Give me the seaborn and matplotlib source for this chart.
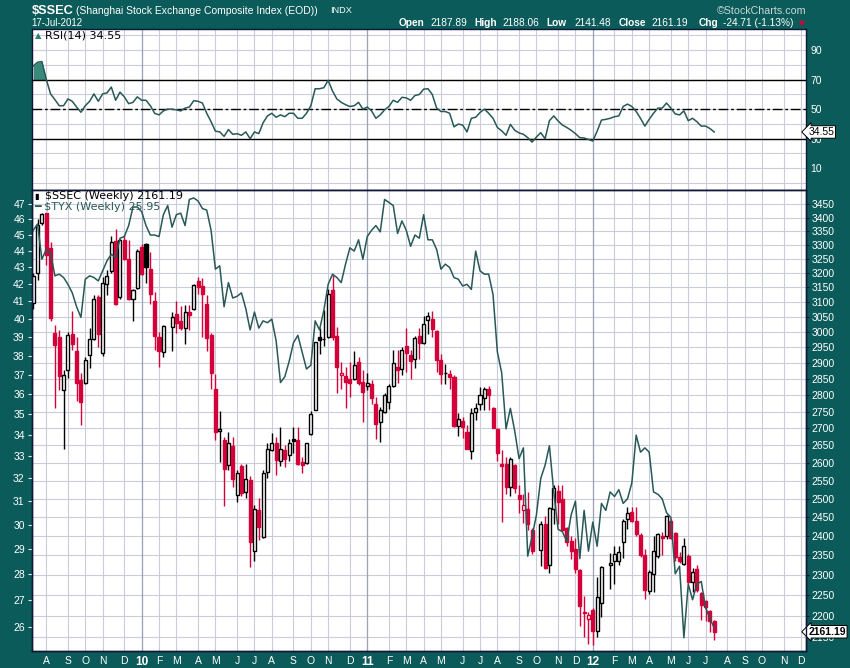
import numpy as np
import pandas as pd
import matplotlib
matplotlib.use("Agg")
import matplotlib.pyplot as plt
import matplotlib.ticker as mticker
import matplotlib.transforms as mtransforms
import seaborn as sns

# ---------------- data ----------------
first_week = "2009-07-13"
axis_end = "2012-12-10"

ssec_open = [3098, 3201, 3379, 3416, 3290, 2998, 2985, 2817, 2878, 2993,
             2938, 2846, 2838, 2926, 2976, 3118, 2932, 3161, 3207, 3314,
             3116, 3317, 3249, 3109, 3148, 3294, 3303, 3214, 3103, 2985,
             2935, None, 3015, 3059, 3036, 3012, 3068, 3075, 3173, 3155,
             3095, 2990, 2820, 2692, 2665, 2595, 2648, 2510, 2591, 2517,
             2551, 2361, 2469, 2398, 2574, 2636, 2656, 2605, 2638, 2622,
             2668, 2666, 2603, 2600, 2682, 2756, 2983, 2976, 2983, 3140,
             2986, 2861, 2860, 2851, 2851, 2902, 2841, 2827, 2833, 2772,
             2718, 2750, 2778, 2829, 2886, 2880, 2954, 2925, 2914, 2987,
             2963, 3039, 3042, 3003, 2911, 2869, 2865, 2856, 2707, 2723,
             2688, 2635, 2748, 2772, 2790, 2820, 2760, 2697, 2598, 2598,
             2533, 2595, 2510, 2469, 2471, 2417, None, 2364, 2433, 2325,
             2471, 2521, 2498, 2420, 2387, 2366, 2312, 2209, 2191, 2213,
             2163, 2230, None, 2325, 2334, 2334, 2383, 2446, 2464, 2439,
             2403, 2350, 2259, 2302, 2349, 2401, 2400, 2441, 2409, 2346,
             2328, 2349, 2283, 2314, 2254, 2235, 2211, 2187.89]
ssec_high = [3200, 3394, 3419, 3419, 3312, 3023, 3006, 2878, 3001, 3070,
             2985, 2867, 2920, 3012, 3124, 3124, 3185, 3210, 3333, 3358,
             3320, 3336, 3317, 3146, 3284, 3302, 3308, 3276, 3135, 2999,
             3023, None, 3068, 3103, 3086, 3090, 3090, 3161, 3185, 3182,
             3124, 2996, 2864, 2751, 2675, 2688, 2675, 2581, 2598, 2598,
             2562, 2483, 2502, 2579, 2656, 2685, 2675, 2703, 2651, 2670,
             2705, 2703, 2617, 2658, 2752, 2969, 3012, 3073, 3143, 3192,
             3017, 2904, 2888, 2902, 2939, 2920, 2878, 2867, 2846, 2795,
             2763, 2807, 2833, 2941, 2943, 2952, 3014, 2941, 2987, 3012,
             3052, 3065, 3070, 3006, 2930, 2897, 2878, 2862, 2746, 2734,
             2710, 2760, 2775, 2826, 2824, 2828, 2765, 2700, 2636, 2617,
             2617, 2598, 2538, 2514, 2519, 2420, None, 2439, 2453, 2477,
             2538, 2538, 2538, 2425, 2400, 2396, 2316, 2247, 2209, 2217,
             2295, 2322, None, 2355, 2373, 2375, 2446, 2478, 2478, 2478,
             2407, 2365, 2312, 2400, 2408, 2410, 2455, 2446, 2411, 2358,
             2395, 2352, 2318, 2324, 2258, 2237, 2214, 2188.06]
ssec_low = [3075, 3175, 3373, 3228, 3038, 2760, 2815, 2639, 2852, 2941,
            2783, 2710, 2834, 2883, 2974, 2952, 2922, 3124, 3199, 3090,
            3112, 3246, 3106, 3038, 3146, 3192, 3164, 3095, 2941, 2888,
            2919, None, 2939, 2998, 3006, 2962, 3008, 3073, 3129, 2985,
            2939, 2820, 2665, 2603, 2481, 2581, 2533, 2492, 2507, 2503,
            2319, 2336, 2389, 2394, 2556, 2634, 2565, 2591, 2589, 2605,
            2627, 2594, 2572, 2598, 2680, 2754, 2930, 2954, 2981, 2975,
            2805, 2820, 2762, 2795, 2848, 2830, 2720, 2815, 2772, 2668,
            2661, 2747, 2759, 2826, 2838, 2861, 2872, 2849, 2883, 2914,
            2961, 2993, 2985, 2872, 2834, 2833, 2818, 2705, 2676, 2673,
            2639, 2610, 2724, 2756, 2754, 2756, 2700, 2606, 2438, 2512,
            2507, 2516, 2460, 2435, 2416, 2352, None, 2322, 2316, 2305,
            2433, 2433, 2412, 2375, 2340, 2304, 2176, 2150, 2132, 2130,
            2148, 2196, None, 2264, 2277, 2325, 2344, 2418, 2437, 2399,
            2346, 2241, 2252, 2258, 2343, 2350, 2392, 2392, 2336, 2330,
            2325, 2280, 2258, 2258, 2189, 2187, 2161, 2141.48]
ssec_close = [3189, 3373, 3414, 3264, 3045, 2957, 2859, 2861, 2990, 2962,
              2838, 2780, 2911, 2976, 3109, 2995, 3164, 3189, 3309, 3095,
              3317, 3248, 3112, 3140, 3278, 3195, 3222, 3129, 2988, 2938,
              3020, None, 3050, 3031, 3012, 3068, 3056, 3157, 3152, 3129,
              2981, 2868, 2688, 2698, 2583, 2656, 2553, 2570, 2515, 2553,
              2383, 2471, 2424, 2572, 2639, 2658, 2608, 2641, 2610, 2656,
              2664, 2598, 2594, 2656, 2743, 2966, 2974, 2978, 3129, 2985,
              2888, 2868, 2841, 2838, 2893, 2836, 2808, 2838, 2790, 2714,
              2755, 2800, 2828, 2899, 2878, 2943, 2932, 2907, 2979, 2965,
              3028, 3052, 3010, 2911, 2864, 2867, 2857, 2708, 2729, 2705,
              2641, 2745, 2760, 2800, 2820, 2800, 2701, 2627, 2590, 2533,
              2612, 2528, 2498, 2483, 2433, 2360, None, 2433, 2318, 2474,
              2528, 2490, 2416, 2383, 2361, 2315, 2224, 2205, 2201, 2163,
              2246, 2321, None, 2331, 2353, 2358, 2439, 2460, 2439, 2405,
              2350, 2263, 2306, 2362, 2404, 2396, 2452, 2396, 2346, 2334,
              2375, 2281, 2306, 2262, 2225, 2220, 2186, 2161.19]
tyx_close = [45.3, 45.7, 43.5, 44.1, 43.9, 42.5, 42.6, 42.4, 42.0, 41.5,
             40.7, 40.1, 42.3, 42.5, 42.4, 42.2, 42.8, 43.4, 43.8, 43.6,
             44.8, 44.9, 45.6, 46.8, 46.8, 46.5, 45.6, 45.0, 45.0, 44.9,
             46.3, 46.9, 45.5, 46.3, 46.4, 45.6, 47.3, 47.4, 47.2, 46.7,
             46.6, 45.3, 42.9, 43.1, 40.7, 42.1, 41.2, 41.3, 41.5, 40.6,
             39.4, 40.4, 39.5, 39.9, 39.8, 40.0, 38.8, 36.6, 36.9, 37.7,
             38.7, 39.1, 38.2, 37.3, 37.5, 39.9, 39.4, 40.5, 42.0, 42.6,
             42.4, 42.1, 43.2, 44.2, 44.0, 44.7, 43.5, 44.9, 45.3, 45.6,
             45.2, 47.3, 47.1, 46.9, 45.1, 45.9, 45.3, 44.3, 45.0, 44.8,
             46.3, 44.7, 44.7, 44.1, 42.9, 43.2, 43.0, 42.4, 42.3, 41.9,
             42.0, 41.7, 44.0, 42.8, 42.6, 42.6, 41.4, 38.2, 37.1, 34.3,
             35.3, 34.2, 32.9, 33.4, 28.7, 29.5, 30.4, 32.0, 32.6, 33.5,
             31.4, 29.8, 29.7, 29.3, 30.4, 31.0, 28.6, 30.6, 28.9, 30.1,
             29.1, 30.9, 30.6, 31.4, 31.2, 31.5, 30.9, 31.1, 31.8, 34.0,
             33.2, 33.4, 33.2, 31.4, 31.3, 31.1, 30.5, 30.3, 28.0, 28.3,
             25.6, 27.6, 27.0, 27.6, 27.7, 26.7, 26.3, 25.95]
rsi14 = [79.2, 81.7, 82.2, 70.2, 60.3, 56.4, 52.3, 52.3, 56.9, 55.3,
         51.4, 47.9, 52.3, 55.3, 60.3, 55.3, 60.3, 61.0, 64.9, 56.0,
         61.5, 58.3, 53.7, 54.6, 58.3, 56.0, 56.0, 52.3, 47.2, 46.1,
         48.8, 50.0, 50.0, 49.5, 48.8, 50.7, 51.4, 55.7, 55.3, 54.1,
         47.2, 41.5, 35.1, 34.6, 31.6, 36.2, 33.0, 33.4, 32.3, 34.6,
         30.0, 34.6, 33.4, 40.8, 45.4, 47.2, 44.5, 46.1, 44.9, 47.2,
         47.2, 43.8, 43.8, 47.2, 52.3, 63.8, 63.8, 64.5, 69.5, 62.2,
         56.9, 54.6, 53.0, 51.8, 52.3, 54.6, 50.0, 51.4, 48.8, 43.8,
         46.1, 49.5, 51.8, 56.0, 54.6, 58.0, 57.6, 56.0, 59.2, 59.9,
         63.5, 63.8, 59.9, 50.7, 48.4, 48.4, 47.2, 38.0, 39.9, 39.2,
         34.6, 43.8, 44.5, 47.7, 50.0, 47.2, 43.8, 37.6, 35.3, 32.3,
         39.7, 35.7, 33.9, 33.0, 30.7, 27.7, 31.1, 34.1, 30.0, 42.2,
         45.4, 42.0, 39.2, 37.6, 35.7, 33.4, 30.7, 30.5, 29.5, 28.4,
         35.1, 42.6, 43.1, 43.8, 44.9, 45.4, 51.8, 53.4, 51.8, 48.4,
         43.8, 38.5, 43.1, 47.2, 50.7, 50.7, 54.1, 50.7, 46.8, 46.1,
         48.8, 42.2, 43.8, 41.5, 38.5, 38.5, 36.9, 34.55]

price_ticks = list(range(2150, 3451, 50))
tyx_ticks = list(range(26, 48))
rsi_label_ticks = [10, 30, 50, 70, 90]
rsi_grid_ticks = [0, 20, 40, 60, 80, 100]

# ---------------- style ----------------
TEAL = "#0B5B5A"
RED = "#D4003A"
LINE = "#285858"
GRID = "#CBCCDA"
GRID_YEAR = "#9CA4B6"
SPINE = "#10183A"

plt.rcParams["font.family"] = ["Liberation Sans", "DejaVu Sans"]

W, H = 850, 668
fig = plt.figure(figsize=(8.5, 6.68), dpi=100, facecolor=TEAL)
fx = lambda px: px / W
fy = lambda py: 1 - py / H

ax_rsi = fig.add_axes([fx(31.7), fy(190), fx(806) - fx(31.7), (190 - 29.3) / H])
ax = fig.add_axes([fx(31.7), fy(650.7), fx(806) - fx(31.7), (650.7 - 190) / H],
                  sharex=ax_rsi)

o = np.array(ssec_open, dtype=float)
h = np.array(ssec_high, dtype=float)
l = np.array(ssec_low, dtype=float)
c = np.array(ssec_close, dtype=float)
idx = np.arange(len(c))
valid = ~np.isnan(c)
prev = pd.Series(c).ffill().shift(1).to_numpy()
prev[0] = o[0]
edge = np.where(c >= prev, "black", RED)
face = np.where(c > o, "white", edge)

axis_dates = pd.date_range(first_week, axis_end, freq="7D")
month_idx = [i for i, d in enumerate(axis_dates) if d.day <= 7]
month_lab = [axis_dates[i].strftime("%y") if axis_dates[i].month == 1
             else axis_dates[i].strftime("%b")[0] for i in month_idx]
year_idx = [i for i, lab in zip(month_idx, month_lab) if lab.isdigit()]

# ---------------- main panel ----------------
ax.set_facecolor("white")
ax.set_yscale("log")
ax.vlines(idx[valid], l[valid], h[valid], colors=edge[valid], lw=1.0, zorder=2)
body_h = np.maximum(np.abs(c - o), 1.5)
ax.bar(idx[valid], body_h[valid], bottom=np.minimum(o, c)[valid], width=0.7,
       color=face[valid], edgecolor=edge[valid], linewidth=1.0, zorder=3)
ax.set_ylim(2116.9, 3504.4)
ax.yaxis.set_major_locator(mticker.FixedLocator(price_ticks))
ax.yaxis.set_major_formatter(mticker.FormatStrFormatter("%d"))
ax.yaxis.set_minor_locator(mticker.NullLocator())
ax.set_axisbelow(True)
ax.grid(True, color=GRID, lw=0.8)
for yi in year_idx:
    ax.axvline(yi, color=GRID_YEAR, lw=0.9, zorder=0.6)

ax_t = ax.twinx()
ax_t.set_yscale("log")
sns.lineplot(x=idx, y=np.array(tyx_close), ax=ax_t, color=LINE, linewidth=1.1)
ax_t.set_ylim(25.14, 47.93)
ax_t.yaxis.set_major_locator(mticker.FixedLocator(tyx_ticks))
ax_t.yaxis.set_major_formatter(mticker.FormatStrFormatter("%d"))
ax_t.yaxis.set_minor_locator(mticker.NullLocator())
ax_t.set_ylabel("")
ax_t.set_xlabel("")

ax.yaxis.tick_right()
ax_t.yaxis.tick_left()
ax.tick_params(axis="y", labelcolor="white", labelsize=7.5, length=2, pad=2, color=SPINE)
ax_t.tick_params(axis="y", labelcolor="white", labelsize=7.5, length=3, pad=2, color="#DDE6E6")

ax.set_xticks(month_idx)
ax.set_xticklabels(month_lab)
ax.tick_params(axis="x", labelcolor="white", labelsize=7.5, length=0, pad=4)
for lab in ax.get_xticklabels():
    if lab.get_text().isdigit():
        lab.set_fontweight("bold")
        lab.set_fontsize(8.5)
ax.set_xlim(-0.35, 178.15)

# ---------------- RSI panel ----------------
rsi = np.array(rsi14, dtype=float)
ax_rsi.set_facecolor("white")
ax_rsi.set_axisbelow(True)
ax_rsi.fill_between(idx, rsi, 70, where=rsi > 70, interpolate=True,
                    color="#3A8A7B", lw=0, zorder=2)
ax_rsi.fill_between(idx, rsi, 30, where=rsi < 30, interpolate=True,
                    color="#E39E2E", lw=0, zorder=2)
sns.lineplot(x=idx, y=rsi, ax=ax_rsi, color=LINE, linewidth=1.1, zorder=4)
ax_rsi.axhline(70, color="black", lw=1.0, zorder=3)
ax_rsi.axhline(30, color="black", lw=1.0, zorder=3)
ax_rsi.axhline(50, color="black", lw=1.0, ls=(0, (7, 2, 2, 2)), zorder=3)
ax_rsi.set_ylim(-4.7, 104)
ax_rsi.yaxis.tick_right()
ax_rsi.set_yticks(rsi_label_ticks)
ax_rsi.set_yticks(rsi_grid_ticks, minor=True)
ax_rsi.grid(True, which="both", color=GRID, lw=0.8)
for yi in year_idx:
    ax_rsi.axvline(yi, color=GRID_YEAR, lw=0.9, zorder=0.6)
ax_rsi.tick_params(axis="y", which="both", labelcolor="white", labelsize=7.5,
                   length=0, pad=3)
ax_rsi.tick_params(axis="x", labelbottom=False, length=0)
ax_rsi.set_xlabel("")
ax_rsi.set_ylabel("")
ax.set_xlabel("")
ax.set_ylabel("")

for a in (ax, ax_rsi, ax_t):
    for s in a.spines.values():
        s.set_color(SPINE)
        s.set_linewidth(1.0)

# value boxes on right edge
tr_r = mtransforms.blended_transform_factory(ax_rsi.transAxes, ax_rsi.transData)
ax_rsi.text(1.003, rsi[-1], f"{rsi[-1]:.2f}", transform=tr_r, ha="left", va="center",
            fontsize=7.5, color="black", zorder=10, clip_on=False,
            bbox=dict(boxstyle="larrow,pad=0.12", fc="white", ec="black", lw=0.7))
tr_p = mtransforms.blended_transform_factory(ax.transAxes, ax.transData)
ax.text(1.003, c[-1], f"{c[-1]:.2f}", transform=tr_p, ha="left", va="center",
        fontsize=7.5, fontweight="bold", color="black", zorder=10, clip_on=False,
        bbox=dict(boxstyle="larrow,pad=0.12", fc="white", ec="black", lw=0.7))

# legends inside panels
fig.text(fx(35), fy(36), "\u25B2", fontsize=6, color="#2E7F70", va="center",
         family="DejaVu Sans")
fig.text(fx(45), fy(36), f"RSI(14) {rsi[-1]:.2f}", fontsize=8, color="black",
         va="center", family="DejaVu Sans")
fig.text(fx(34), fy(196), "\u25AE", fontsize=6, color="black", va="center",
         family="DejaVu Sans")
fig.text(fx(45), fy(196), f"\\$SSEC (Weekly) {c[-1]:.2f}", fontsize=8,
         color="black", va="center", family="DejaVu Sans")
fig.text(fx(34), fy(207.5), f"\u2501 \\$TYX (Weekly) {tyx_close[-1]:.2f}",
         fontsize=8, color=LINE, va="center", family="DejaVu Sans")

# header
fig.text(fx(31.5), fy(10.5), "\\$SSEC", fontsize=9.2, fontweight="bold",
         color="white", va="center")
fig.text(fx(76.5), fy(10.5), "(Shanghai Stock Exchange Composite Index (EOD))",
         fontsize=7.5, color="white", va="center")
fig.text(fx(330), fy(10.5), "INDX", fontsize=6.6, color="white", va="center")
fig.text(fx(31.5), fy(23.5), "17-Jul-2012", fontsize=7, color="white", va="center")
fig.text(fx(806), fy(10.5), "\u00A9StockCharts.com", fontsize=7.7,
         color="#C9D6D6", va="center", ha="right")
pieces = [("Open", 398.5, True), ("2187.89", 430, False),
          ("High", 474.3, True), ("2188.06", 502, False),
          ("Low", 546.7, True), ("2141.48", 574, False),
          ("Close", 619, True), ("2161.19", 651.5, False),
          ("Chg", 699, True), ("-24.71 (-1.13%)", 722.7, False)]
for txt, px, bold in pieces:
    fig.text(fx(px), fy(23.5), txt, fontsize=7.3, color="white", va="center",
             fontweight="bold" if bold else "normal")
fig.text(fx(799), fy(24), "\u25BC", fontsize=5.5, color="#D4003A", va="center",
         family="DejaVu Sans")

fig.savefig("out.png", dpi=100, facecolor=TEAL)
